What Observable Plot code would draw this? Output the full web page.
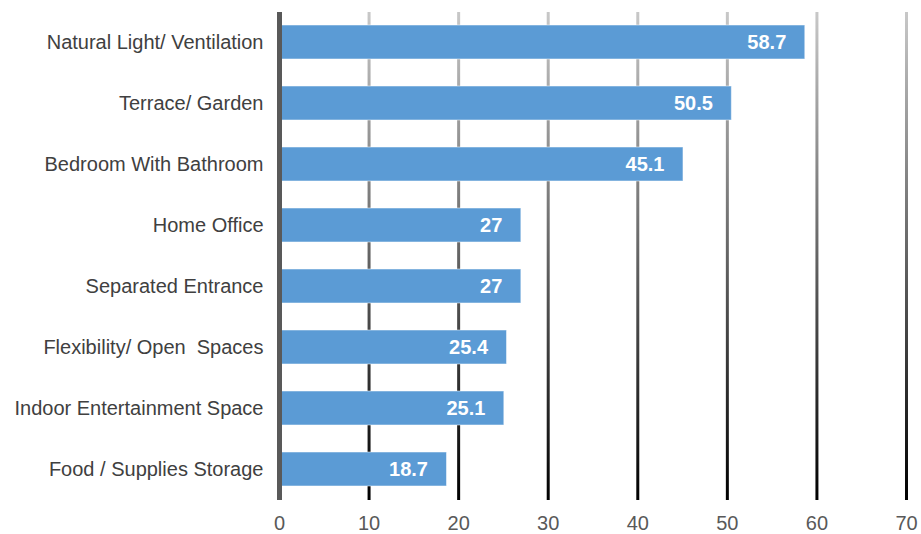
<!DOCTYPE html>
<html>
<head>
<meta charset="utf-8">
<script src="https://cdn.jsdelivr.net/npm/d3@7"></script>
<script src="https://cdn.jsdelivr.net/npm/@observablehq/plot@0.6"></script>
<style>
  html, body { margin: 0; padding: 0; background: #fff; }
  #chart svg text { white-space: pre; }
</style>
</head>
<body>
<div id="chart"></div>
<script>
const categories = [
  "Natural Light/ Ventilation",
  "Terrace/ Garden",
  "Bedroom With Bathroom",
  "Home Office",
  "Separated Entrance",
  "Flexibility/ Open  Spaces",
  "Indoor Entertainment Space",
  "Food / Supplies Storage"
];
const values = [58.7, 50.5, 45.1, 27, 27, 25.4, 25.1, 18.7];
const valueLabels = ["58.7", "50.5", "45.1", "27", "27", "25.4", "25.1", "18.7"];
const xTicks = [0, 10, 20, 30, 40, 50, 60, 70];
const gridTicks = [10, 20, 30, 40, 50, 60, 70];

const data = categories.map((c, i) => ({category: c, value: values[i], label: valueLabels[i]}));

const chart = Plot.plot({
  width: 921,
  height: 534,
  marginLeft: 279,
  marginRight: 15,
  marginTop: 12,
  marginBottom: 34,
  style: {fontFamily: "Liberation Sans, Arial, sans-serif", fontSize: "18px", background: "#fff"},
  x: {domain: [0, 70], ticks: xTicks, label: null},
  y: {domain: categories, label: null, paddingInner: 0.44, paddingOuter: 0.21},
  marks: [
    Plot.ruleX(gridTicks, {stroke: "url(#gridgrad)", strokeWidth: 3}),
    Plot.barX(data, {x: "value", y: "category", fill: "#5B9BD5", stroke: "#ffffff", strokeOpacity: 0.5, strokeWidth: 1}),
    Plot.ruleX([0], {stroke: "#595959", strokeWidth: 5}),
    Plot.text(data, {x: "value", y: "category", text: "label", textAnchor: "end", dx: -19, fill: "white", fontWeight: "bold", fontSize: 20}),
    Plot.axisY({tickSize: 0, tickPadding: 16, fontSize: 20, fill: "#404040"}),
    Plot.axisX({ticks: xTicks, tickSize: 0, tickPadding: 15, fontSize: 20, fill: "#595959"})
  ]
});

const ns = "http://www.w3.org/2000/svg";
const defs = document.createElementNS(ns, "defs");
const grad = document.createElementNS(ns, "linearGradient");
grad.setAttribute("id", "gridgrad");
grad.setAttribute("gradientUnits", "userSpaceOnUse");
grad.setAttribute("x1", "0"); grad.setAttribute("x2", "0");
grad.setAttribute("y1", "12"); grad.setAttribute("y2", "500");
[["0%", "#c8c8c8"], ["100%", "#000000"]].forEach(([o, c]) => {
  const s = document.createElementNS(ns, "stop");
  s.setAttribute("offset", o);
  s.setAttribute("stop-color", c);
  grad.appendChild(s);
});
defs.appendChild(grad);
chart.insertBefore(defs, chart.firstChild);

document.getElementById("chart").appendChild(chart);
</script>
</body>
</html>
